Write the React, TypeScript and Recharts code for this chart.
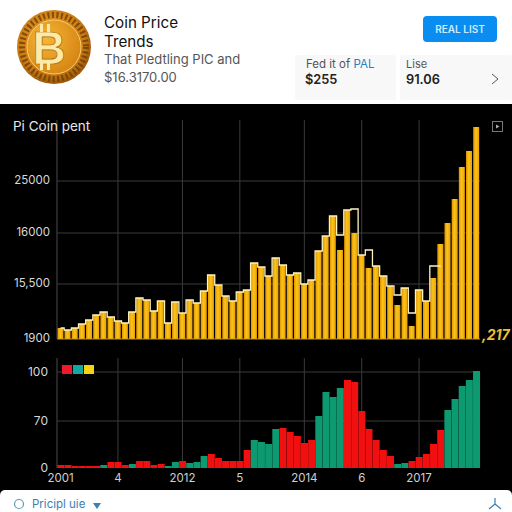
import React from "react";
import { ComposedChart, BarChart, Bar, Line, Cell, XAxis, YAxis, CartesianGrid, ReferenceLine } from "recharts";

const priceValues = [11,9,11,15,19,24,27,22,18,16,27,41,39,28,38,16,37,26,39,36,48,64,54,43,38,47,49,76,72,63,81,74,64,66,55,59,88,103,123,89,129,106,84,71,73,63,53,34,51,13,49,38,61,95,116,140,172,188,212];
const priceOutline: (number | null)[] = [11,9,11,15,19,24,27,22,18,16,27,41,39,28,38,16,37,26,39,36,48,64,54,43,38,47,49,76,72,63,81,74,64,66,55,59,88,103,123,104,129,130,84,89,73,63,53,44,51,26,49,38,73,73,null,null,null,null,null];
const volumeValues = [3,3,2,2,2,2,3,6,6,3,4,7,7,3,4,2,6,7,5,6,12,14,10,7,7,7,18,28,26,24,39,40,36,32,25,28,52,76,71,80,88,86,57,39,28,18,12,4,5,7,11,14,24,38,58,69,82,88,97];
const volumeSide = ["d","d","d","d","d","d","u","d","d","d","u","d","d","d","d","u","u","d","u","u","u","d","d","d","d","d","d","u","u","u","u","d","d","d","d","d","u","u","u","u","d","d","d","d","d","d","d","u","u","d","d","d","d","d","u","u","u","u","u"];

const priceTicks = [0, 55, 106, 158];
const priceLabels = ["1900", "15,500", "16000", "25000"];
const volumeTicks = [0, 47, 96];
const volumeLabels = ["0", "70", "100"];
const xTicks = [0, 8, 17, 25, 34, 42, 50];
const xLabels = ["2001", "4", "2012", "5", "2014", "6", "2017"];

const priceData = priceValues.map((v, i) => ({ i, v, o: priceOutline[i] }));
const volumeData = volumeValues.map((v, i) => ({ i, v }));

const FONT = "Inter, 'Liberation Sans', sans-serif";
const PLOT_L = 57;
const PLOT_R = 480;
const STEP = (PLOT_R - PLOT_L) / priceValues.length;
const gridX = xTicks.slice(1).map((i) => PLOT_L + (i + 0.5) * STEP);

const abs = (l: number, t: number, extra: React.CSSProperties = {}): React.CSSProperties => ({
  position: "absolute", left: l, top: t, whiteSpace: "nowrap", lineHeight: 1, ...extra,
});

function Coin() {
  return (
    <svg width={80} height={80} style={{ position: "absolute", left: 14, top: 7 }}>
      <defs>
        <radialGradient id="coinG" cx="45%" cy="40%" r="65%">
          <stop offset="0%" stopColor="#f0a828" />
          <stop offset="70%" stopColor="#c87a12" />
          <stop offset="100%" stopColor="#8a4c08" />
        </radialGradient>
        <radialGradient id="coinI" cx="35%" cy="35%" r="80%">
          <stop offset="0%" stopColor="#f6b535" />
          <stop offset="100%" stopColor="#d17f10" />
        </radialGradient>
      </defs>
      <circle cx={40} cy={40} r={37} fill="url(#coinG)" />
      <circle cx={40} cy={40} r={32} fill="none" stroke="#6e3c06" strokeWidth={6} strokeDasharray="2 2.5" opacity={0.8} />
      <circle cx={40} cy={40} r={27} fill="url(#coinI)" stroke="#f8cc70" strokeWidth={1} />
      <text x={35} y={57} textAnchor="middle" fontFamily="'Liberation Sans', sans-serif" fontWeight="bold" fontSize={46} fill="#fde9a8" stroke="#a86808" strokeWidth={0.7}>B</text>
      <rect x={26} y={17} width={3} height={8} fill="#fde9a8" />
      <rect x={33} y={17} width={3} height={8} fill="#fde9a8" />
      <rect x={26} y={55} width={3} height={8} fill="#fde9a8" />
      <rect x={33} y={55} width={3} height={8} fill="#fde9a8" />
    </svg>
  );
}

export default function App() {
  const bull = "#0e9a70";
  const bear = "#f01010";
  return (
    <div style={{ position: "absolute", left: 0, top: 0, width: 512, height: 512, overflow: "hidden", background: "#000", fontFamily: FONT }}>
      <div style={{ position: "absolute", left: 0, top: 0, width: 512, height: 104, background: "#fff" }} />
      <Coin />
      <div style={abs(104, 15, { fontSize: 15.2, color: "#111" })}>Coin Price</div>
      <div style={abs(104, 34, { fontSize: 15.2, color: "#111" })}>Trends</div>
      <div style={abs(104, 53, { fontSize: 13, color: "#555" })}>That Pledtling PIC and</div>
      <div style={abs(104, 71, { fontSize: 13, color: "#555" })}>$16.3170.00</div>
      <div style={{ ...abs(423, 16), width: 74, height: 26, background: "#0a8df0", borderRadius: 4, color: "#cfeaff", fontSize: 10, fontWeight: 600, display: "flex", alignItems: "center", justifyContent: "center" }}>REAL LIST</div>
      <div style={{ ...abs(295, 55), width: 101, height: 45, background: "#f8f8f8", borderRadius: 3 }} />
      <div style={{ ...abs(400, 55), width: 112, height: 45, background: "#f8f8f8", borderRadius: 3 }} />
      <div style={abs(306, 59, { fontSize: 11.5, color: "#555" })}>Fed it of <span style={{ color: "#2a7fc0" }}>PAL</span></div>
      <div style={abs(305, 74, { fontSize: 12.8, fontWeight: 600, color: "#222" })}>$255</div>
      <div style={abs(406, 59, { fontSize: 11, color: "#555" })}>Lise</div>
      <div style={abs(406, 74, { fontSize: 12.8, fontWeight: 600, color: "#222" })}>91.06</div>
      <svg width={10} height={14} style={{ position: "absolute", left: 490, top: 72 }}>
        <path d="M2 2 L8 7 L2 12" fill="none" stroke="#555" strokeWidth={1} />
      </svg>

      <div style={{ position: "absolute", left: 0, top: 104 }}>
        <ComposedChart width={512} height={240} data={priceData} margin={{ top: 16, right: 32, bottom: 5, left: 0 }} barCategoryGap="5%">
          <defs>
            <linearGradient id="barG" x1="0" y1="0" x2="1" y2="0">
              <stop offset="0%" stopColor="#df9204" />
              <stop offset="45%" stopColor="#fcc416" />
              <stop offset="100%" stopColor="#e8a008" />
            </linearGradient>
          </defs>
          <CartesianGrid stroke="#3a3a3a" verticalPoints={gridX} horizontalPoints={[77, 129, 180]} />
          <XAxis dataKey="i" hide height={0} />
          <YAxis width={57} domain={[0, 219]} ticks={priceTicks} interval={0}
            tickFormatter={(_v: number, idx: number) => priceLabels[idx]}
            axisLine={{ stroke: "#4a4a4a" }} tickLine={false}
            tick={{ fill: "#d8d8d8", fontSize: 11.5, fontFamily: FONT, dy: -1 }} tickMargin={1} />
          <Bar dataKey="v" fill="url(#barG)" isAnimationActive={false} />
          <Line dataKey="o" type="step" stroke="#fff4c0" strokeWidth={1.3} dot={false} connectNulls={false} isAnimationActive={false} />
          <ReferenceLine y={0} stroke="#c89a10" strokeWidth={1} />
        </ComposedChart>
      </div>
      <div style={abs(13, 120, { fontSize: 13.5, color: "#e8e8e8" })}>Pi Coin pent</div>
      <div style={abs(482, 328, { fontSize: 14, fontWeight: 700, fontStyle: "italic", color: "#e8c040" })}>,217</div>
      <svg width={12} height={12} style={{ position: "absolute", left: 492, top: 121 }}>
        <rect x={0.5} y={0.5} width={10} height={10} fill="none" stroke="#777" />
        <path d="M4 3.5 L7.5 5.5 L4 7.5 Z" fill="#aaa" />
      </svg>

      <div style={{ position: "absolute", left: 0, top: 348 }}>
        <BarChart width={512} height={140} data={volumeData} margin={{ top: 10, right: 32, bottom: 0, left: 0 }} barCategoryGap="3%">
          <CartesianGrid stroke="#3a3a3a" verticalPoints={gridX} horizontalPoints={[24, 73]} />
          <XAxis dataKey="i" ticks={xTicks} interval={0} height={20} axisLine={false} tickLine={false}
            tickFormatter={(_v: number, idx: number) => xLabels[idx]}
            tick={{ fill: "#d0d0d0", fontSize: 11.5, fontFamily: FONT }} tickMargin={0} />
          <YAxis width={57} domain={[0, 110]} ticks={volumeTicks} interval={0}
            tickFormatter={(_v: number, idx: number) => volumeLabels[idx]}
            axisLine={{ stroke: "#4a4a4a" }} tickLine={false}
            tick={{ fill: "#d8d8d8", fontSize: 12, fontFamily: FONT }} tickMargin={3} />
          <Bar dataKey="v" isAnimationActive={false}>
            {volumeSide.map((s, i) => (
              <Cell key={i} fill={s === "u" ? bull : bear} />
            ))}
          </Bar>
        </BarChart>
      </div>
      <div style={{ ...abs(62, 365), width: 10, height: 9, background: "#ee1a2c" }} />
      <div style={{ ...abs(73, 365), width: 10, height: 9, background: "#12a8a4" }} />
      <div style={{ ...abs(84, 365), width: 10, height: 9, background: "#f5d312" }} />

      <div style={{ position: "absolute", left: 0, top: 490, width: 512, height: 22, background: "#fff", borderRadius: "5px 5px 0 0" }} />
      <svg width={14} height={14} style={{ position: "absolute", left: 12, top: 497 }}>
        <circle cx={7} cy={7} r={4.5} fill="none" stroke="#5a9ab8" strokeWidth={1.2} />
      </svg>
      <div style={abs(32, 499, { fontSize: 11.5, color: "#3a7fb0" })}>Pricipl uie</div>
      <svg width={10} height={8} style={{ position: "absolute", left: 92, top: 502 }}>
        <path d="M1 1 L9 1 L5 7 Z" fill="#3a7fb0" />
      </svg>
      <svg width={16} height={14} style={{ position: "absolute", left: 487, top: 497 }}>
        <path d="M8 1 L8 7 M8 7 L2 12 M8 7 L14 12" fill="none" stroke="#3a7fb0" strokeWidth={1.2} />
      </svg>
    </div>
  );
}
